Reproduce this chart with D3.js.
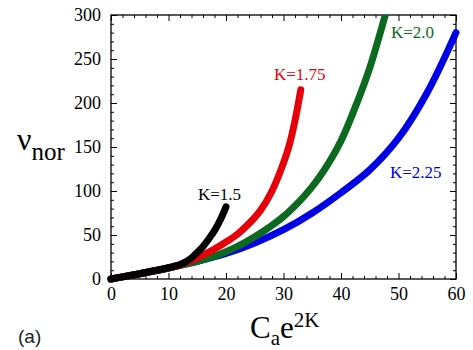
<!DOCTYPE html>
<html><head><meta charset="utf-8"><script src="https://cdn.jsdelivr.net/npm/d3@7"></script></head>
<body style="margin:0">
<script>
// values: x = C_a e^2K, y = nu_nor
var k150_x = [0, 2, 5, 8, 10, 12, 13, 14, 15, 16, 17, 18, 19, 20]
var k150_y = [0, 2.4, 6, 10, 12.8, 16.5, 19.5, 24, 30, 37, 45.5, 55, 67, 82]

var k175_x = [0, 2, 5, 8, 10, 12, 14, 16, 18, 20, 22, 24, 26, 28, 30, 31, 32, 33]
var k175_y = [0, 2.4, 6, 10, 12.6, 16, 21, 27, 34, 42, 51, 63, 78, 100, 132, 152, 180, 215]

var k200_x = [0, 2, 5, 10, 15, 18, 20, 22, 25, 28, 30, 33, 35, 37, 40, 43, 45, 47.7]
var k200_y = [0, 2.4, 6, 12.5, 20, 26, 31, 37, 48, 61, 71, 90, 105, 123, 157, 204, 240, 300]

var k225_x = [0, 2, 5, 10, 15, 20, 25, 30, 35, 40, 45, 50, 55, 60]
var k225_y = [0, 2.4, 6, 12.5, 20, 29, 41, 56, 75, 98, 124, 160, 212, 280]

var labels = ["K=1.5", "K=1.75", "K=2.0", "K=2.25"]
var colors = ["#000000", "#e6000a", "#0c6a20", "#0000e4"]

var xMajor = [0, 10, 20, 30, 40, 50, 60]
var yMajor = [0, 50, 100, 150, 200, 250, 300]

var width = 473, height = 350
var margin = {top: 15, right: 17, bottom: 71, left: 111}

var x = d3.scaleLinear().domain([0, 60]).range([margin.left, width - margin.right])
var y = d3.scaleLinear().domain([0, 300]).range([height - margin.bottom, margin.top])

var svg = d3.select("body").append("svg")
    .attr("width", width)
    .attr("height", height)
    .attr("font-family", "Times New Roman")

var xMinor = d3.range(0, 61, 2).filter(function(d) { return d % 10 != 0 })
var yMinor = d3.range(0, 301, 10).filter(function(d) { return d % 50 != 0 })

// one side of inward ticks; only bottom and left carry labels
function ticks(axis, pos, vals, size, pad, labelled) {
  var g = svg.append("g")
      .attr("transform", pos)
      .call(axis.tickValues(vals).tickSize(-size).tickPadding(pad)
        .tickFormat(labelled ? d3.format("d") : ""))
  g.attr("font-family", "Times New Roman").attr("font-size", 18)
  g.select(".domain").remove()
  g.selectAll("line").attr("stroke", "#000")
  g.selectAll("text").attr("fill", "#000")
  return g
}

var gx = ticks(d3.axisBottom(x), "translate(0," + y(0) + ")", xMajor, 6, 8, true)
var gy = ticks(d3.axisLeft(y), "translate(" + x(0) + ",0)", yMajor, 6, 10, true)
ticks(d3.axisTop(x), "translate(0," + y(300) + ")", xMajor, 6, 3, false)
ticks(d3.axisRight(y), "translate(" + x(60) + ",0)", yMajor, 6, 3, false)
ticks(d3.axisBottom(x), "translate(0," + y(0) + ")", xMinor, 3, 3, false)
ticks(d3.axisTop(x), "translate(0," + y(300) + ")", xMinor, 3, 3, false)
ticks(d3.axisLeft(y), "translate(" + x(0) + ",0)", yMinor, 3, 3, false)
ticks(d3.axisRight(y), "translate(" + x(60) + ",0)", yMinor, 3, 3, false)

// frame
svg.append("rect")
    .attr("x", x(0)).attr("y", y(300))
    .attr("width", x(60) - x(0)).attr("height", y(0) - y(300))
    .attr("fill", "none").attr("stroke", "#000").attr("stroke-width", 1.3)

svg.append("clipPath").attr("id", "plot")
  .append("rect")
    .attr("x", x(0) - 4).attr("y", y(300))
    .attr("width", x(60) - x(0) + 8).attr("height", y(0) - y(300) + 4)

var series = [
  {xs: k225_x, ys: k225_y, c: colors[3]},
  {xs: k200_x, ys: k200_y, c: colors[2]},
  {xs: k175_x, ys: k175_y, c: colors[1]},
  {xs: k150_x, ys: k150_y, c: colors[0]}
]

var line = d3.line()
    .x(function(d) { return x(d[0]) })
    .y(function(d) { return y(d[1]) })
    .curve(d3.curveCatmullRom.alpha(0.5))

svg.append("g").attr("clip-path", "url(#plot)")
  .selectAll("path")
  .data(series)
  .enter()
  .append("path")
    .attr("d", function(s) { return line(d3.zip(s.xs, s.ys)) })
    .attr("fill", "none")
    .attr("stroke", function(s) { return s.c })
    .attr("stroke-width", 7)
    .attr("stroke-linecap", "round")

// curve labels
var labelPos = [[198, 200], [274, 80], [391, 38], [390, 178]]
svg.selectAll(".klabel")
  .data(labels)
  .enter()
  .append("text")
    .attr("class", "klabel")
    .attr("x", function(d, i) { return labelPos[i][0] })
    .attr("y", function(d, i) { return labelPos[i][1] })
    .attr("fill", function(d, i) { return colors[i] })
    .attr("font-size", 17)
    .text(function(d) { return d })

// axis titles
var ytitle = svg.append("text").attr("x", 17).attr("y", 150).attr("font-size", 32)
ytitle.append("tspan").text("\u03bd")
ytitle.append("tspan").attr("dy", 10).attr("font-size", 25).text("nor")

var xtitle = svg.append("text").attr("x", 250).attr("y", 338).attr("font-size", 31)
xtitle.append("tspan").text("C")
xtitle.append("tspan").attr("dy", 7).attr("font-size", 21).text("a")
xtitle.append("tspan").attr("dy", -7).text("e")
xtitle.append("tspan").attr("dy", -11).attr("font-size", 21).text("2K")

svg.append("text")
    .attr("x", 18).attr("y", 343)
    .attr("font-family", "Liberation Sans")
    .attr("font-size", 19)
    .attr("fill", "#222")
    .text("(a)")
</script>
</body>
</html>
